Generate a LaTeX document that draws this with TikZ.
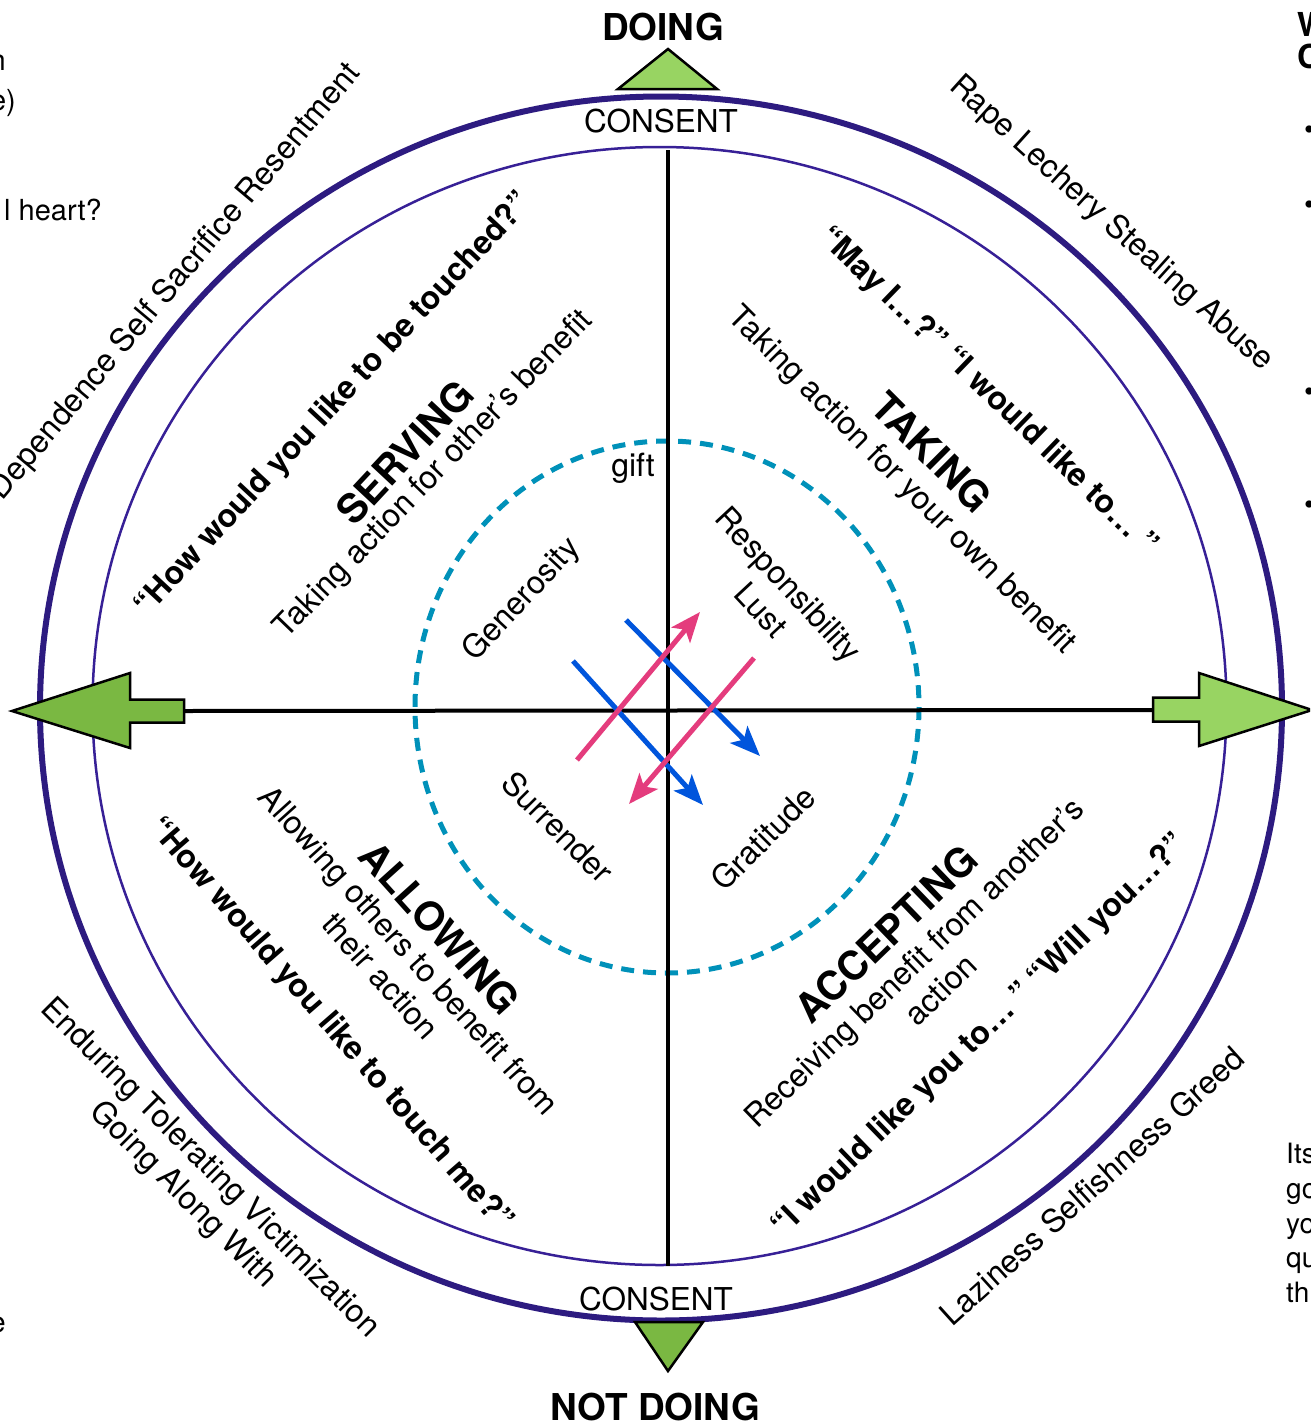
\documentclass[tikz,border=0pt]{standalone}
\usepackage{fontspec}
\setmainfont{TeX Gyre Heros}
\usetikzlibrary{arrows.meta}
\definecolor{darkgreen}{RGB}{122,184,66}
\definecolor{lightgreen}{RGB}{152,212,98}
\definecolor{ringpurple}{RGB}{45,27,128}
\definecolor{ringthin}{RGB}{55,32,150}
\definecolor{tealdash}{RGB}{0,145,185}
\definecolor{pinkarrow}{RGB}{228,60,125}
\definecolor{bluearrow}{RGB}{0,85,220}
\begin{document}
\begin{tikzpicture}[x=1pt,y=-1pt,
  txt/.style={inner sep=0pt, align=center},
  ringtext/.style={txt, font=\fontsize{32}{38}\selectfont},
  constext/.style={txt, font=\fontsize{31.5}{38}\selectfont},
  reg/.style={txt, font=\fontsize{32}{38}\selectfont},
  quotetext/.style={txt, font=\bfseries\fontsize{32}{38}\selectfont},
  titletext/.style={txt, font=\bfseries\fontsize{40}{48}\selectfont},
  poletext/.style={txt, font=\bfseries\fontsize{37}{40}\selectfont},
  sidetext/.style={inner sep=0pt, font=\fontsize{29}{35}\selectfont},
  blockarrow/.style={draw=black, line width=2.5pt, line join=miter},
  axis/.style={draw=black, line width=4pt},
  flowarrow/.style={line width=5pt, -{Stealth[length=30pt, width=24pt, inset=7pt]}},
]
\useasboundingbox (0,0) rectangle (1310,1424);
\clip (0,0) rectangle (1310,1424);

% rings
\draw[ringpurple, line width=6pt] (661,708.5) ellipse [x radius=621, y radius=612];
\draw[ringthin, line width=2.5pt] (659.5,706) ellipse [x radius=567, y radius=559];
\draw[tealdash, line width=5pt, dash pattern=on 13pt off 9pt] (667,707) ellipse [x radius=252, y radius=266];

% axes
\coordinate (vtop) at (668,150);
\coordinate (vbot) at (668,1266);
\coordinate (Lend) at (184,711);
\coordinate (Rend) at (1153,710);
\draw[axis] (vtop) -- (vbot);
\draw[axis] (Lend) -- (Rend);

% block arrows
\draw[blockarrow, fill=darkgreen] (12,711) -- (130,673) -- (130,699.5) -- (Lend |- 0,699.5) -- (Lend |- 0,722.5) -- (130,722.5) -- (130,748) -- cycle;
\draw[blockarrow, fill=lightgreen] (1312,710) -- (1199,673) -- (1199,697.5) -- (Rend |- 0,697.5) -- (Rend |- 0,721.5) -- (1199,721.5) -- (1199,746) -- cycle;
\draw[blockarrow, fill=lightgreen] (618,89) -- (668,49) -- (717,89) -- cycle;
\draw[blockarrow, fill=darkgreen] (635,1322) -- (703,1322) -- (668,1371) -- cycle;

% pole labels
\node[poletext] (doing) at (663,27) {DOING};
\node[poletext] (notdoing) at (655,1407) {NOT DOING};
\node[constext] (consTop) at (661,121) {CONSENT};
\node[constext] (consBot) at (656,1299) {CONSENT};

% ring texts
\node[ringtext, rotate=50, anchor=east] (rDep) at (355,68) {Dependence Self Sacrifice Resentment};
\node[ringtext, rotate=-42] (rRape) at (1111,224) {Rape Lechery Stealing Abuse};
\node[ringtext, rotate=42] (rLazy) at (1092,1186) {Laziness Selfishness Greed};
\node[ringtext, rotate=-45] (rEnd) at (196,1182) {Enduring Tolerating Victimization\\Going Along With};

% SERVING quadrant
\node[quotetext, rotate=47] (qServ) at (334,405) {“How would you like to be touched?”};
\node[titletext, rotate=47] (tServ) at (405,452) {SERVING};
\node[reg, rotate=46] (sServ) at (434,475) {Taking action for other’s benefit};

% TAKING quadrant
\node[quotetext, rotate=-44] (qTake) at (988,392) {“May I…?”\hspace{10pt}“I would like to… ”};
\node[titletext, rotate=-45] (tTake) at (932,452) {TAKING};
\node[reg, rotate=-45] (sTake) at (901,481) {Taking action for your own benefit};

% ALLOWING quadrant
\node[quotetext, rotate=-49] (qAllow) at (330,1025) {“How would you like to touch me?”};
\node[titletext, rotate=-48] (tAllow) at (440,928) {ALLOWING};
\node[reg, rotate=-48] (sAllow) at (395,963) {Allowing others to benefit from\\their action};

% ACCEPTING quadrant
\node[quotetext, rotate=44] (qAcc) at (980,1036) {“I would like you to… ”\hspace{8pt}“Will you…?”};
\node[titletext, rotate=44] (tAcc) at (886,934) {ACCEPTING};
\node[reg, rotate=44] (sAcc) at (927,976) {Receiving benefit from another’s\\action};

% inner labels
\node[reg] (gift) at (633,468) {gift};
\node[reg, rotate=47] (gen) at (522,600) {Generosity};
\node[reg, rotate=-47] (resp) at (775,597) {Responsibility\\Lust};
\node[reg, rotate=-45] (surr) at (558,827) {Surrender};
\node[reg, rotate=45] (grat) at (763,838) {Gratitude};

% center arrows
\coordinate (b1s) at (626,620);
\coordinate (b1e) at (760,756);
\coordinate (b2s) at (573,661);
\coordinate (b2e) at (703,805);
\coordinate (p1s) at (577,760);
\coordinate (p1e) at (700,612);
\coordinate (p2s) at (754,658);
\coordinate (p2e) at (629,804);
\draw[flowarrow, bluearrow] (b1s) -- (b1e);
\draw[flowarrow, bluearrow] (b2s) -- (b2e);
\draw[flowarrow, pinkarrow] (p1s) -- (p1e);
\draw[flowarrow, pinkarrow] (p2s) -- (p2e);

% partial side texts
\node[sidetext, anchor=base east] (lt1) at (6,70) {n};
\node[sidetext, anchor=base east] (lt2) at (16,110) {e)};
\node[sidetext, anchor=base east] (lt3) at (102,220) {l heart?};
\node[sidetext, anchor=base east] (lt4) at (6,1332) {e};
\node[sidetext, anchor=base west, font=\bfseries\fontsize{33}{35}\selectfont] (rt1) at (1297,36) {W};
\node[sidetext, anchor=base west, font=\bfseries\fontsize{33}{35}\selectfont] (rt2) at (1297,68) {C};
\foreach \yy/\nm in {133/b1,208/b2,395/b3,508/b4}
  \node[sidetext, anchor=west] (\nm) at (1304,\yy) {•};
\node[sidetext, anchor=base west, font=\fontsize{28}{35}\selectfont] (br1) at (1286,1163) {Its};
\node[sidetext, anchor=base west, font=\fontsize{28}{35}\selectfont] (br2) at (1286,1198) {go};
\node[sidetext, anchor=base west, font=\fontsize{28}{35}\selectfont] (br3) at (1286,1233) {yo};
\node[sidetext, anchor=base west, font=\fontsize{28}{35}\selectfont] (br4) at (1286,1267) {qu};
\node[sidetext, anchor=base west, font=\fontsize{28}{35}\selectfont] (br5) at (1286,1302) {th};
\end{tikzpicture}
\end{document}
